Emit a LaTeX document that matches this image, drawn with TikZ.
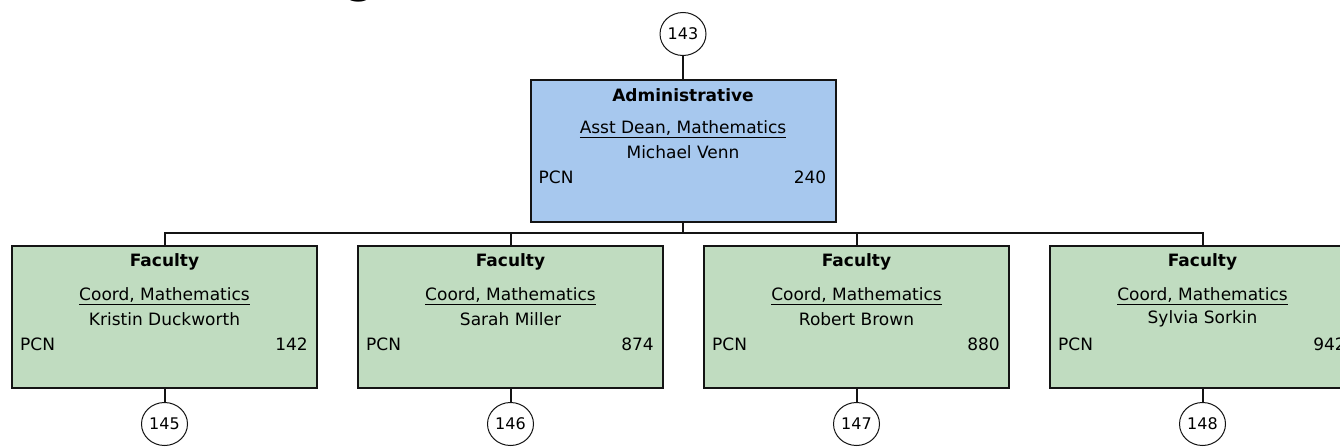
\documentclass[tikz,border=0pt]{standalone}
\usepackage{fontspec}
\setmainfont{DejaVu Sans}
\usetikzlibrary{calc,shapes.geometric}
\definecolor{adminblue}{RGB}{167,200,238}
\definecolor{facgreen}{RGB}{192,220,192}
\definecolor{edge}{RGB}{20,20,20}
\tikzset{
  x=1pt,y=-1pt,
  posbox/.style={draw=edge,line width=2pt,rectangle,minimum width=305pt,minimum height=142pt,inner sep=0pt},
  adminbox/.style={posbox,fill=adminblue},
  facbox/.style={posbox,fill=facgreen},
  refcirc/.style={draw=edge,line width=1pt,fill=white,ellipse,minimum width=46pt,minimum height=43pt,inner sep=0pt,font=\fontsize{16}{18}\selectfont},
  conn/.style={draw=edge,line width=2pt},
  txt/.style={inner sep=0pt,font=\fontsize{17}{19}\selectfont},
  head/.style={txt,font=\fontsize{17}{19}\selectfont\bfseries},
}
\newcommand{\posinfo}[5]{%
  \node[head] at ($(#1.north)+(0,17)$) {#2};
  \node[txt] at ($(#1.north)+(0,51)$) {\underline{#3}};
  \node[txt] at ($(#1.north)+(0,74)$) {#4};
  \node[txt,anchor=west] at ($(#1.north west)+(9,99)$) {PCN};
  \node[txt,anchor=east] at ($(#1.north east)+(-10,99)$) {#5};
}
\begin{document}
\begin{tikzpicture}
\useasboundingbox (0,0) rectangle (1340,447);
\clip (0,0) rectangle (1340,447);
\node[inner sep=0pt,anchor=base,font=\fontsize{40}{44}\selectfont\bfseries] (ttl) at (361,-6) {g};
% admin
\node[adminbox] (adm) at (683,150.5) {};
\node[refcirc] (c143) at (683,34) {143};
\draw[conn] (c143) -- (adm.north);
\posinfo{adm}{Administrative}{Asst Dean, Mathematics}{Michael Venn}{240}
% faculty
\node[facbox] (f1) at (164.5,317) {};
\node[facbox] (f2) at (510.5,317) {};
\node[facbox] (f3) at (856.5,317) {};
\node[facbox] (f4) at (1202.5,317) {};
\posinfo{f1}{Faculty}{Coord, Mathematics}{Kristin Duckworth}{142}
\posinfo{f2}{Faculty}{Coord, Mathematics}{Sarah Miller}{874}
\posinfo{f3}{Faculty}{Coord, Mathematics}{Robert Brown}{880}
\posinfo{f4}{Faculty}{Coord, Mathematics}{Sylvia Sorkin}{942}
% bus
\coordinate (bus) at (683,233);
\draw[conn] (adm.south) -- (bus);
\draw[conn] (f1.north) |- (bus) -| (f4.north);
\draw[conn] (f2.north) -- (f2.north |- bus);
\draw[conn] (f3.north) -- (f3.north |- bus);
% bottom circles
\node[refcirc] (c145) at (164.5,424) {145};
\node[refcirc] (c146) at (510.5,424) {146};
\node[refcirc] (c147) at (856.5,424) {147};
\node[refcirc] (c148) at (1202.5,424) {148};
\foreach \f/\c in {f1/c145,f2/c146,f3/c147,f4/c148}
  \draw[conn] (\f.south) -- (\c);
\end{tikzpicture}
\end{document}
